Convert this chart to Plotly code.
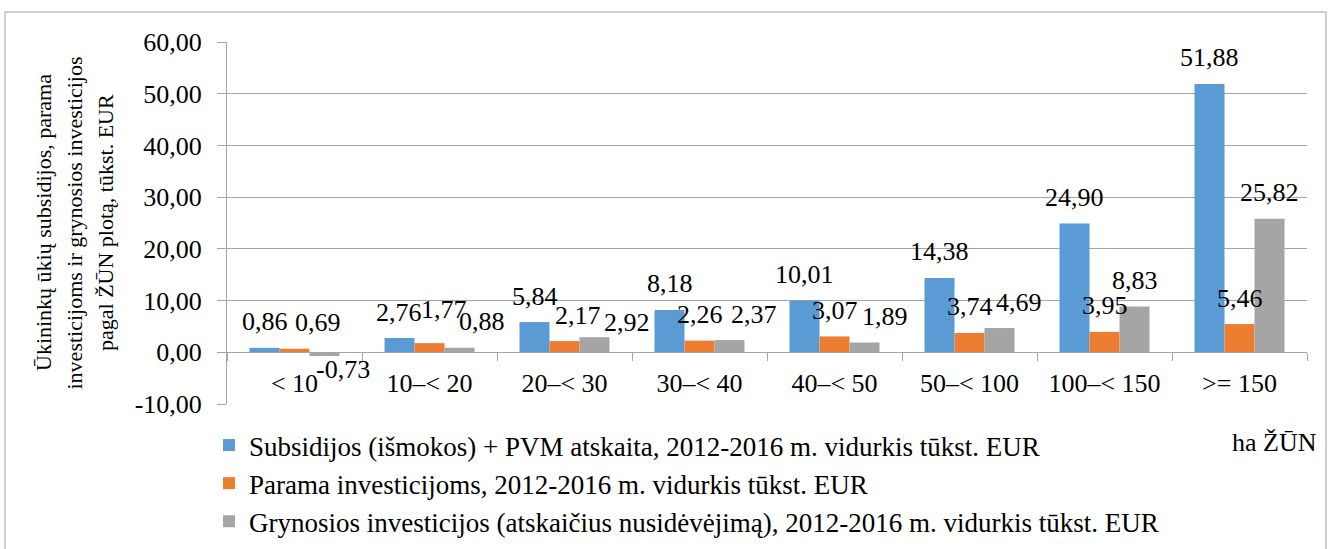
import plotly.graph_objects as go

# ---------------- data ----------------
categories = ["< 10", "10\u2013< 20", "20\u2013< 30", "30\u2013< 40", "40\u2013< 50",
              "50\u2013< 100", "100\u2013< 150", ">= 150"]
subsidijos = [0.86, 2.76, 5.84, 8.18, 10.01, 14.38, 24.90, 51.88]
parama = [0.69, 1.77, 2.17, 2.26, 3.07, 3.74, 3.95, 5.46]
grynosios = [-0.73, 0.88, 2.92, 2.37, 1.89, 4.69, 8.83, 25.82]
series_names = [
    "Subsidijos (išmokos) + PVM atskaita, 2012-2016 m. vidurkis tūkst. EUR",
    "Parama investicijoms, 2012-2016 m. vidurkis tūkst. EUR",
    "Grynosios investicijos (atskaičius nusidėvėjimą), 2012-2016 m. vidurkis tūkst. EUR",
]
y_ticks = [-10, 0, 10, 20, 30, 40, 50, 60]
y_title_lines = ["Ūkininkų ūkių subsidijos, parama",
                 "investicijoms ir grynosios investicijos",
                 "pagal ŽŪN plotą, tūkst. EUR"]
x_unit = "ha ŽŪN"

# ---------------- styling ----------------
W, H = 1333, 549
L, R, T, B = 227, 26, 42, 145
PW, PH = W - L - R, H - T - B
colors = ["#5B9BD5", "#ED7D31", "#A5A5A5"]
FONT = "Liberation Serif"
FS = 26
GRID = "#a6a6a6"

# manual label nudges (px) like in the original chart: (series, category) -> (dx, dy)
label_nudge = {
    (1, 0): (23, 0), (2, 0): (18, 0),
    (0, 1): (-1, 0), (1, 1): (14, 8), (2, 1): (22, 0),
    (1, 2): (13, 0), (2, 2): (32, -11),
    (2, 3): (24, 0), (2, 4): (20, 0), (2, 5): (19, 0),
}


def fmt(v):
    return f"{v:.2f}".replace(".", ",")


def px_x(px):
    return (px - L) / PW


def px_y(py):
    return 1 - (py - T) / PH


fig = go.Figure()
all_series = [subsidijos, parama, grynosios]
for i, (name, vals) in enumerate(zip(series_names, all_series)):
    fig.add_trace(go.Bar(
        x=categories, y=vals, name=name,
        marker=dict(color=colors[i], line=dict(width=0)),
        hoverinfo="x+y",
    ))

# bar width in px -> offsets of each series inside a group
cat_w = PW / len(categories)
bar_w = cat_w * (1 - 1 / 3) / 3
annotations = []
for i, vals in enumerate(all_series):
    for j, v in enumerate(vals):
        dx, dy = label_nudge.get((i, j), (0, 0))
        annotations.append(dict(
            x=categories[j], y=v, xref="x", yref="y",
            text=fmt(v), showarrow=False,
            xshift=(i - 1) * bar_w + dx,
            yshift=(26 if v >= 0 else -13) + dy,
            yanchor="middle", xanchor="center",
            font=dict(family=FONT, size=FS, color="#000000"),
        ))

# y axis title, three lines
for k, (line, cx) in enumerate(zip(y_title_lines, [43, 73.5, 105])):
    annotations.append(dict(
        x=px_x(cx), y=px_y(223), xref="paper", yref="paper",
        text=line, showarrow=False, textangle=-90,
        xanchor="center", yanchor="middle",
        font=dict(family=FONT, size=22, color="#000000"),
    ))

annotations.append(dict(
    x=px_x(1319), y=px_y(442), xref="paper", yref="paper",
    text=x_unit, showarrow=False, xanchor="right", yanchor="middle",
    font=dict(family=FONT, size=FS, color="#000000"),
))

fig.update_layout(
    width=W, height=H,
    margin=dict(l=L, r=R, t=T, b=B, pad=0, autoexpand=False),
    paper_bgcolor="white", plot_bgcolor="white",
    barmode="group", bargap=1 / 3, bargroupgap=0,
    font=dict(family=FONT, size=FS, color="#000000"),
    showlegend=True,
    legend=dict(
        x=px_x(209), y=px_y(546), xanchor="left", yanchor="bottom",
        orientation="v", tracegroupgap=0,
        bgcolor="rgba(0,0,0,0)", borderwidth=0,
        font=dict(family=FONT, size=27, color="#000000"),
    ),
    annotations=annotations,
    shapes=[dict(
        type="rect", xref="paper", yref="paper",
        x0=px_x(5), x1=px_x(1326), y0=px_y(570), y1=px_y(12),
        line=dict(color="#a0a0a0", width=1), fillcolor="rgba(0,0,0,0)",
        layer="below",
    )],
)

fig.update_yaxes(
    range=[-10, 60], tickvals=y_ticks,
    ticktext=[fmt(t) for t in y_ticks],
    showgrid=True, gridcolor=GRID, gridwidth=1,
    zeroline=False, showline=True, linecolor=GRID, linewidth=1,
    ticks="outside", ticklen=9, tickcolor=GRID,
    ticklabelstandoff=10,
    tickfont=dict(family=FONT, size=FS, color="#000000"),
)
fig.update_xaxes(
    type="category", anchor="free", position=10 / 70,
    showgrid=False, showline=True, linecolor=GRID, linewidth=1,
    ticks="outside", ticklen=8, tickcolor=GRID, tickson="boundaries",
    ticklabelstandoff=8,
    tickfont=dict(family=FONT, size=FS, color="#000000"),
)

fig.write_html(
    "out.html",
    config={"displayModeBar": False},
    post_script="document.body.style.margin='0px';document.body.style.overflow='hidden';",
)
